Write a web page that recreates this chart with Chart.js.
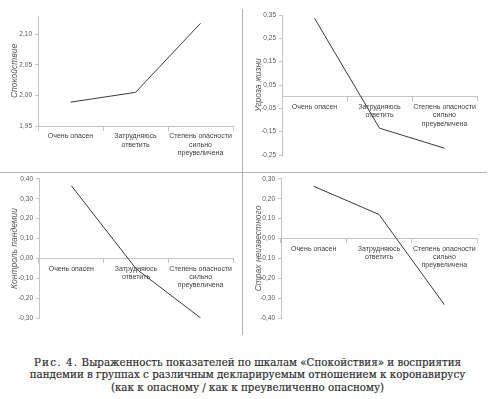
<!DOCTYPE html>
<html><head><meta charset="utf-8">
<script src="https://cdn.jsdelivr.net/npm/chart.js@4"></script>
<style>
html,body{margin:0;padding:0;background:#fff;width:495px;height:399px;overflow:hidden;}
.pnl{position:absolute;}
.vline{position:absolute;left:242px;top:9px;width:1px;height:326px;background:#b3b3b3;}
.hline{position:absolute;left:0;top:172px;width:487px;height:1px;background:#b3b3b3;}
#cap{position:absolute;left:0;top:356px;width:495px;text-align:center;font-family:"DejaVu Serif",serif;font-size:10.3px;line-height:12.3px;color:#2a2a2a;font-weight:normal;-webkit-text-stroke:0.15px #2a2a2a;}
</style></head><body>
<div class="pnl" style="left:0;top:0;width:242px;height:172px"><canvas id="c1"></canvas></div>
<div class="pnl" style="left:242px;top:0;width:253px;height:172px"><canvas id="c2"></canvas></div>
<div class="pnl" style="left:0;top:172px;width:242px;height:172px"><canvas id="c3"></canvas></div>
<div class="pnl" style="left:242px;top:172px;width:253px;height:172px"><canvas id="c4"></canvas></div>
<div class="vline"></div><div class="hline"></div>
<div id="cap"><span style="letter-spacing:1.2px">Рис. 4.</span> Выраженность показателей по шкалам «Спокойствия» и восприятия<br>пандемии в группах с различным декларируемым отношением к коронавирусу<br>(как к опасному / как к преувеличенно опасному)</div>
<script>
const categories = ["Очень опасен", ["Затрудняюсь", "ответить"], ["Степень опасности", "сильно", "преувеличена"]];
const calmValues = [1.989, 2.005, 2.118];
const lifeThreatValues = [0.336, -0.135, -0.221];
const pandemicControlValues = [0.366, -0.052, -0.300];
const fearUnknownValues = [0.263, 0.121, -0.333];
const calmTicks = [1.95, 2.00, 2.05, 2.10];
const lifeThreatTicks = [-0.25, -0.15, -0.05, 0.05, 0.15, 0.25, 0.35];
const controlTicks = [-0.30, -0.20, -0.10, 0.00, 0.10, 0.20, 0.30, 0.40];
const fearTicks = [-0.40, -0.30, -0.20, -0.10, 0.00, 0.10, 0.20, 0.30];
const axisTitles = ["Спокойствие", "Угроза жизни", "Контроль пандемии", "Страх неизвестного"];

const AX = '#c6c6c6', TXT = '#595959';
function fmt(v){ return v.toFixed(2).replace('.', ','); }

function make(id, values, ticks, min, max, cross, title, pad, yWidth, titlePad){
  new Chart(document.getElementById(id), {
    type: 'line',
    data: { labels: categories, datasets: [{ data: values, borderColor: '#3a3a3a', borderWidth: 1, pointRadius: 0, tension: 0, fill: false }] },
    options: {
      responsive: true, maintainAspectRatio: false, animation: false,
      layout: { padding: pad },
      plugins: { legend: { display: false }, tooltip: { enabled: false } },
      scales: {
        x: {
          type: 'category', offset: true,
          position: { y: cross },
          grid: { offset: true, drawOnChartArea: false, drawTicks: true, tickLength: 4, color: AX },
          border: { color: AX, width: 1 },
          ticks: { color: '#404040', font: { family: 'Liberation Sans', size: 7 }, maxRotation: 0, minRotation: 0, autoSkip: false, padding: 2 }
        },
        y: {
          min: min, max: max,
          afterBuildTicks: s => { s.ticks = ticks.map(v => ({ value: v })); },
          afterFit: s => { s.width = yWidth; },
          grid: { drawOnChartArea: false, drawTicks: true, tickLength: 3, color: AX },
          border: { color: AX, width: 1 },
          ticks: { color: TXT, font: { family: 'Liberation Sans', size: 6.5 }, padding: 3, callback: v => fmt(v) },
          title: { display: true, text: title, color: TXT, font: { family: 'Liberation Sans', size: 8.5, style: 'italic' }, padding: { top: titlePad, bottom: 0 } }
        }
      }
    }
  });
}
make('c1', calmValues, calmTicks, 1.95, 2.13, 1.95, axisTitles[0], { left: 0, right: 9, top: 16, bottom: 46 }, 38, 10);
make('c2', lifeThreatValues, lifeThreatTicks, -0.25, 0.35, 0, axisTitles[1], { left: 0, right: 18, top: 15, bottom: 17 }, 40, 12);
make('c3', pandemicControlValues, controlTicks, -0.30, 0.40, 0, axisTitles[2], { left: 0, right: 9, top: 6, bottom: 26 }, 39, 10);
make('c4', fearUnknownValues, fearTicks, -0.40, 0.30, 0, axisTitles[3], { left: 0, right: 18, top: 6, bottom: 26 }, 39, 12);
</script>
</body></html>
